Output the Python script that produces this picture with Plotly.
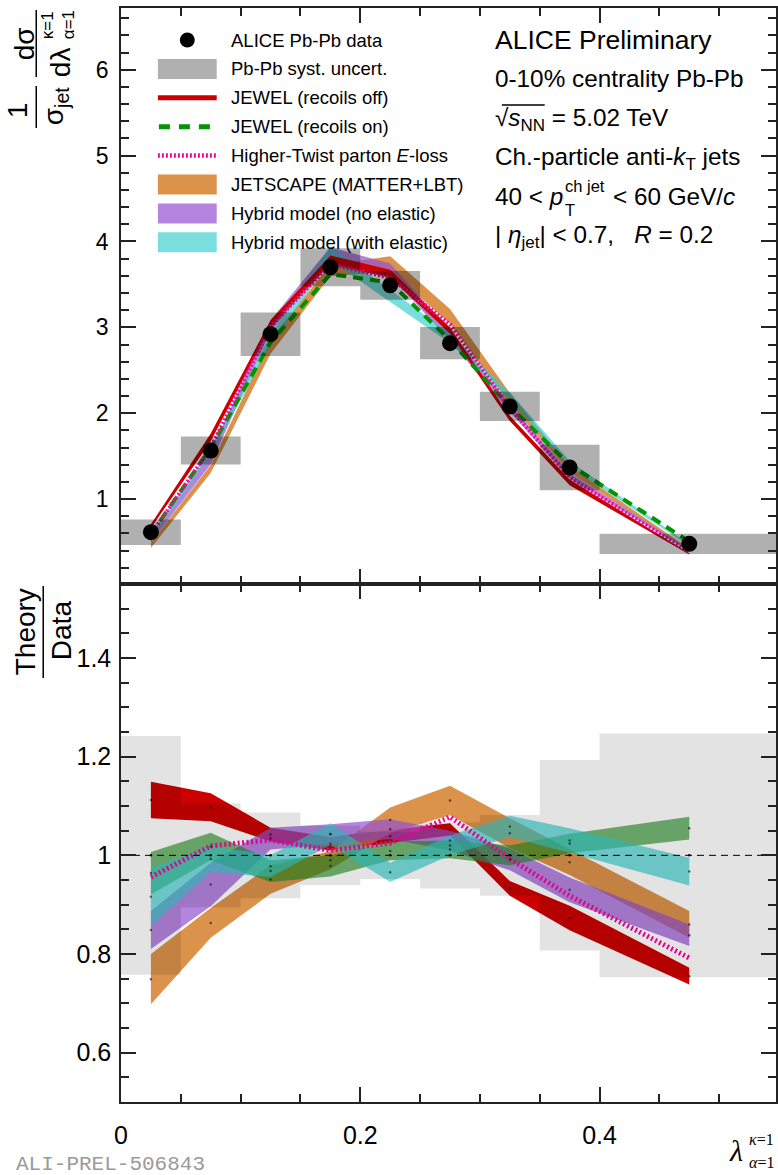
import plotly.graph_objects as go

# ---------------- data ----------------
bin_edges_lo = [0.00, 0.05, 0.10, 0.15, 0.20, 0.25, 0.30, 0.35, 0.40]
bin_edges_hi = [0.05, 0.10, 0.15, 0.20, 0.25, 0.30, 0.35, 0.40, 0.55]
lam_centers = [0.025, 0.075, 0.125, 0.175, 0.225, 0.275, 0.325, 0.375, 0.475]

alice_data = [0.614, 1.565, 2.92, 3.70, 3.49, 2.816, 2.078, 1.367, 0.478]
alice_syst_rel = [0.242, 0.105, 0.087, 0.060, 0.048, 0.067, 0.082, 0.193, 0.247]

# Theory / Data bands (low, high)
jewel_off_lo = [1.075, 1.069, 1.028, 1.010, 1.025, 1.040, 0.918, 0.848, 0.738]
jewel_off_hi = [1.149, 1.126, 1.056, 1.037, 1.052, 1.065, 0.948, 0.898, 0.772]

jewel_on_lo = [0.921, 0.990, 0.946, 0.957, 0.990, 0.994, 0.980, 1.004, 1.032]
jewel_on_hi = [1.007, 1.046, 0.990, 1.000, 1.028, 1.030, 1.020, 1.044, 1.078]

higher_twist = [0.956, 1.019, 1.031, 1.010, 1.025, 1.078, 0.993, 0.918, 0.792]

jetscape_lo = [0.698, 0.833, 0.922, 0.972, 1.046, 1.081, 1.015, 0.960, 0.833]
jetscape_hi = [0.800, 0.893, 0.980, 1.008, 1.097, 1.141, 1.075, 1.012, 0.887]

hybrid_noel_lo = [0.810, 0.897, 1.012, 1.022, 1.033, 1.010, 0.970, 0.905, 0.816]
hybrid_noel_hi = [0.887, 0.985, 1.056, 1.063, 1.073, 1.050, 1.014, 0.955, 0.860]

hybrid_el_lo = [0.857, 0.966, 0.956, 1.021, 0.946, 1.000, 1.037, 1.005, 0.939]
hybrid_el_hi = [0.975, 1.019, 1.000, 1.065, 0.985, 1.040, 1.080, 1.055, 0.995]

ratio_ref = 1.0
top_yticks = [1, 2, 3, 4, 5, 6]
ratio_yticks = [0.6, 0.8, 1.0, 1.2, 1.4]
ratio_yticktext = ["0.6", "0.8", "1", "1.2", "1.4"]
x_ticks = [0, 0.2, 0.4]
x_ticktext = ["0", "0.2", "0.4"]

# ---------------- styles ----------------
RED = "rgb(204,0,0)"
GREEN_BAND = "rgba(30,140,30,0.62)"
GREEN_LINE = "rgb(0,150,0)"
MAGENTA = "rgb(245,10,160)"
ORANGE = "rgba(210,120,30,0.80)"
PURPLE = "rgba(150,80,210,0.70)"
CYAN = "rgba(50,205,205,0.65)"
GRAY_TOP = "rgba(0,0,0,0.31)"
GRAY_RATIO = "rgba(0,0,0,0.11)"
FONT = "Liberation Sans, Arial, Helvetica, sans-serif"
SERIF = "Liberation Serif, Times New Roman, serif"
AXC = "#222222"

W, H = 778, 1175
L, R, T, B = 121, 0, 8, 73
PW = W - L - R
PH = H - T - B
SPLIT = 584


def px(xp):
    return (xp - L) / PW


def py(yp):
    return (H - B - yp) / PH


split = py(SPLIT)


def scaled(vals, factors):
    return [v * f for v, f in zip(vals, factors)]


def band(lo, hi, color, xa, ya):
    xs = list(lam_centers)
    return go.Scatter(x=xs + xs[::-1], y=list(hi) + list(lo)[::-1], fill="toself",
                      fillcolor=color, mode="lines", line=dict(width=0),
                      hoverinfo="skip", showlegend=False, xaxis=xa, yaxis=ya)


def boxes(lo, hi, color, xa, ya):
    xs, ys = [], []
    for bl, bh, l, h in zip(bin_edges_lo, bin_edges_hi, lo, hi):
        xs += [bl, bh, bh, bl, bl, None]
        ys += [l, l, h, h, l, None]
    return go.Scatter(x=xs, y=ys, fill="toself", fillcolor=color, mode="lines",
                      line=dict(width=0), hoverinfo="skip", showlegend=False,
                      xaxis=xa, yaxis=ya)


def mid(lo, hi):
    return [(a + b) / 2 for a, b in zip(lo, hi)]


fig = go.Figure()

# ---------------- top panel ----------------
fig.add_trace(band(scaled(alice_data, jetscape_lo), scaled(alice_data, jetscape_hi), ORANGE, "x", "y"))
fig.add_trace(band(scaled(alice_data, hybrid_noel_lo), scaled(alice_data, hybrid_noel_hi), PURPLE, "x", "y"))
fig.add_trace(band(scaled(alice_data, hybrid_el_lo), scaled(alice_data, hybrid_el_hi), CYAN, "x", "y"))
fig.add_trace(band(scaled(alice_data, jewel_off_lo), scaled(alice_data, jewel_off_hi), RED, "x", "y"))
fig.add_trace(go.Scatter(x=lam_centers, y=scaled(alice_data, mid(jewel_on_lo, jewel_on_hi)),
                         mode="lines", line=dict(color=GREEN_LINE, width=4, dash="10px,7px"),
                         showlegend=False, xaxis="x", yaxis="y"))
fig.add_trace(go.Scatter(x=lam_centers, y=scaled(alice_data, higher_twist),
                         mode="lines", line=dict(color=MAGENTA, width=4, dash="2px,2px"),
                         showlegend=False, xaxis="x", yaxis="y"))
fig.add_trace(boxes([d * (1 - s) for d, s in zip(alice_data, alice_syst_rel)],
                    [d * (1 + s) for d, s in zip(alice_data, alice_syst_rel)],
                    GRAY_TOP, "x", "y"))
fig.add_trace(go.Scatter(x=lam_centers, y=alice_data, mode="markers",
                         marker=dict(size=16, color="black"), showlegend=False,
                         xaxis="x", yaxis="y"))

# ---------------- ratio panel ----------------
fig.add_trace(band(jewel_off_lo, jewel_off_hi, RED, "x2", "y2"))
fig.add_trace(band(jetscape_lo, jetscape_hi, ORANGE, "x2", "y2"))
fig.add_trace(band(hybrid_noel_lo, hybrid_noel_hi, PURPLE, "x2", "y2"))
fig.add_trace(band(jewel_on_lo, jewel_on_hi, GREEN_BAND, "x2", "y2"))
fig.add_trace(band(hybrid_el_lo, hybrid_el_hi, CYAN, "x2", "y2"))
fig.add_trace(go.Scatter(x=lam_centers, y=higher_twist, mode="lines",
                         line=dict(color=MAGENTA, width=5, dash="2px,2.5px"),
                         showlegend=False, xaxis="x2", yaxis="y2"))
fig.add_trace(boxes([ratio_ref - s for s in alice_syst_rel],
                    [ratio_ref + s for s in alice_syst_rel], GRAY_RATIO, "x2", "y2"))
for lo, hi in [(jewel_off_lo, jewel_off_hi), (jetscape_lo, jetscape_hi),
               (hybrid_noel_lo, hybrid_noel_hi), (jewel_on_lo, jewel_on_hi),
               (hybrid_el_lo, hybrid_el_hi)]:
    fig.add_trace(go.Scatter(x=lam_centers, y=mid(lo, hi), mode="markers",
                             marker=dict(size=2.5, color="rgba(0,0,0,0.55)"),
                             showlegend=False, xaxis="x2", yaxis="y2"))
fig.add_trace(go.Scatter(x=[bin_edges_lo[0], bin_edges_hi[-1]], y=[ratio_ref, ratio_ref],
                         mode="lines", line=dict(color="black", width=1, dash="7px,5px"),
                         showlegend=False, xaxis="x2", yaxis="y2"))
fig.add_trace(go.Scatter(x=lam_centers, y=[ratio_ref] * len(lam_centers), mode="markers",
                         marker=dict(size=2.5, color="black"), showlegend=False,
                         xaxis="x2", yaxis="y2"))

# ---------------- axes ----------------
common_axis = dict(showline=True, linecolor=AXC, linewidth=1.5, mirror="ticks",
                   ticks="inside", tickcolor=AXC, tickwidth=1.5, showgrid=False,
                   zeroline=False)
xr = [0, 0.5475]
fig.update_layout(
    xaxis=dict(domain=[0, 1], anchor="y", range=xr, tickmode="array", tickvals=x_ticks,
               showticklabels=False, ticklen=15,
               minor=dict(ticks="inside", ticklen=8, tick0=0, dtick=0.05, tickcolor=AXC, tickwidth=1.5),
               **common_axis),
    yaxis=dict(domain=[split, 1], anchor="x", range=[0.01, 6.72], tickmode="array",
               tickvals=top_yticks, ticklen=15, ticklabelstandoff=6,
               tickfont=dict(family=FONT, size=23, color="black"),
               minor=dict(ticks="inside", ticklen=8, tick0=0, dtick=0.2, tickcolor=AXC, tickwidth=1.5),
               **common_axis),
    xaxis2=dict(domain=[0, 1], anchor="y2", range=xr, tickmode="array", tickvals=x_ticks,
                ticktext=x_ticktext, ticklen=15, ticklabelstandoff=10,
                tickfont=dict(family=FONT, size=25, color="black"),
                minor=dict(ticks="inside", ticklen=8, tick0=0, dtick=0.05, tickcolor=AXC, tickwidth=1.5),
                **common_axis),
    yaxis2=dict(domain=[0, split], anchor="x2", range=[0.5, 1.55], tickmode="array",
                tickvals=ratio_yticks, ticktext=ratio_yticktext, ticklen=15, ticklabelstandoff=3,
                tickfont=dict(family=FONT, size=25, color="black"),
                minor=dict(ticks="inside", ticklen=8, tick0=0, dtick=0.05, tickcolor=AXC, tickwidth=1.5),
                **common_axis),
)

# ---------------- text / legend ----------------
ann = []
shapes = []


def txt(text, x, y, size, xanchor="left", yanchor="middle", angle=0, family=FONT, color="black"):
    ann.append(dict(text=text, x=px(x), y=py(y), xref="paper", yref="paper",
                    xanchor=xanchor, yanchor=yanchor, showarrow=False, textangle=angle,
                    font=dict(size=size, family=family, color=color)))


def hline(x0, x1, y, color, width, dash="solid"):
    shapes.append(dict(type="line", xref="paper", yref="paper", x0=px(x0), x1=px(x1),
                       y0=py(y), y1=py(y), line=dict(color=color, width=width, dash=dash)))


def vline(x, y0, y1, color="black", width=1.5):
    shapes.append(dict(type="line", xref="paper", yref="paper", x0=px(x), x1=px(x),
                       y0=py(y0), y1=py(y1), line=dict(color=color, width=width)))


def rect(x0, x1, y0, y1, color):
    shapes.append(dict(type="rect", xref="paper", yref="paper", x0=px(x0), x1=px(x1),
                       y0=py(y1), y1=py(y0), fillcolor=color, line=dict(width=0)))


# legend
leg_y0, leg_dy = 40, 28.9
sx0, sx1 = 158, 217
leg_items = [
    ("ALICE Pb-Pb data", "marker", "black"),
    ("Pb-Pb syst. uncert.", "box", GRAY_TOP),
    ("JEWEL (recoils off)", "line", RED),
    ("JEWEL (recoils on)", "dash", GREEN_LINE),
    ("Higher-Twist parton <i>E</i>-loss", "dot", MAGENTA),
    ("JETSCAPE (MATTER+LBT)", "box", ORANGE),
    ("Hybrid model (no elastic)", "box", PURPLE),
    ("Hybrid model (with elastic)", "box", CYAN),
]
for i, (label, kind, col) in enumerate(leg_items):
    yc = leg_y0 + i * leg_dy
    if kind == "marker":
        shapes.append(dict(type="circle", xref="paper", yref="paper",
                           x0=px(180), x1=px(195), y0=py(yc + 7.5), y1=py(yc - 7.5),
                           fillcolor="black", line=dict(width=0)))
    elif kind == "box":
        rect(sx0, sx1, yc - 10, yc + 10, col)
    elif kind == "line":
        hline(sx0, sx1, yc, col, 5)
    elif kind == "dash":
        hline(sx0 + 1, sx1, yc, col, 5, "11px,9px")
    elif kind == "dot":
        hline(sx0, sx1, yc, col, 4.5, "2px,2px")
    txt(label, 229, yc, 18.5)

# right text block
txt("ALICE Preliminary", 494, 40, 26.5)
txt("0-10% centrality Pb-Pb", 494, 79, 24.3)
txt("√<i>s</i><sub>NN</sub> = 5.02 TeV", 494, 119, 24.3)
hline(503, 546, 105, "black", 1.3)
txt("Ch.-particle anti-<i>k</i><sub>T</sub> jets", 494, 158, 24.3)
txt("40 < <i>p</i>", 494, 197, 24.3)
txt("ch jet", 564, 186, 16.5)
txt("T", 564, 210, 16.5)
txt("< 60 GeV/<i>c</i>", 612, 197, 24.3)
txt("| <i>η</i><sub>jet</sub>| < 0.7,\u00a0\u00a0\u00a0<i>R</i> = 0.2", 494, 236, 24.3)

# y-axis title, top panel
txt("1", 17, 110, 28, "center", "middle", -90)
vline(36, 86, 128)
txt("σ<sub>jet</sub>", 55, 106, 28, "center", "middle", -90)
txt("dσ", 24, 44, 28, "center", "middle", -90)
vline(36, 10, 77)
txt("dλ", 60, 62, 28, "center", "middle", -90)
txt("κ=1", 47, 25, 17, "center", "middle", -90)
txt("α=1", 68, 25, 17, "center", "middle", -90)

# y-axis title, ratio panel
txt("Theory", 25, 632, 28, "center", "middle", -90)
vline(43, 586, 678)
txt("Data", 61, 630, 28, "center", "middle", -90)

# x-axis title
txt("<i>λ</i>", 738, 1150, 30, "center", "middle", 0, SERIF)
txt("<i>κ</i>=1", 749, 1139, 16, "left", "middle", 0, SERIF)
txt("<i>α</i>=1", 749, 1162, 16, "left", "middle", 0, SERIF)

# preliminary tag
txt("ALI-PREL-506843", 14, 1164, 21, "left", "middle", 0,
    "Liberation Mono, Courier New, monospace", "#9a9a9a")

fig.update_layout(
    width=W, height=H, autosize=False,
    margin=dict(l=L, r=R, t=T, b=B, pad=0),
    paper_bgcolor="white", plot_bgcolor="white",
    showlegend=False,
    annotations=ann, shapes=shapes,
    font=dict(family=FONT, color="black"),
)

fig.write_html("out.html", config={"displayModeBar": False},
               post_script="document.body.style.margin='0';document.body.style.overflow='hidden';")
